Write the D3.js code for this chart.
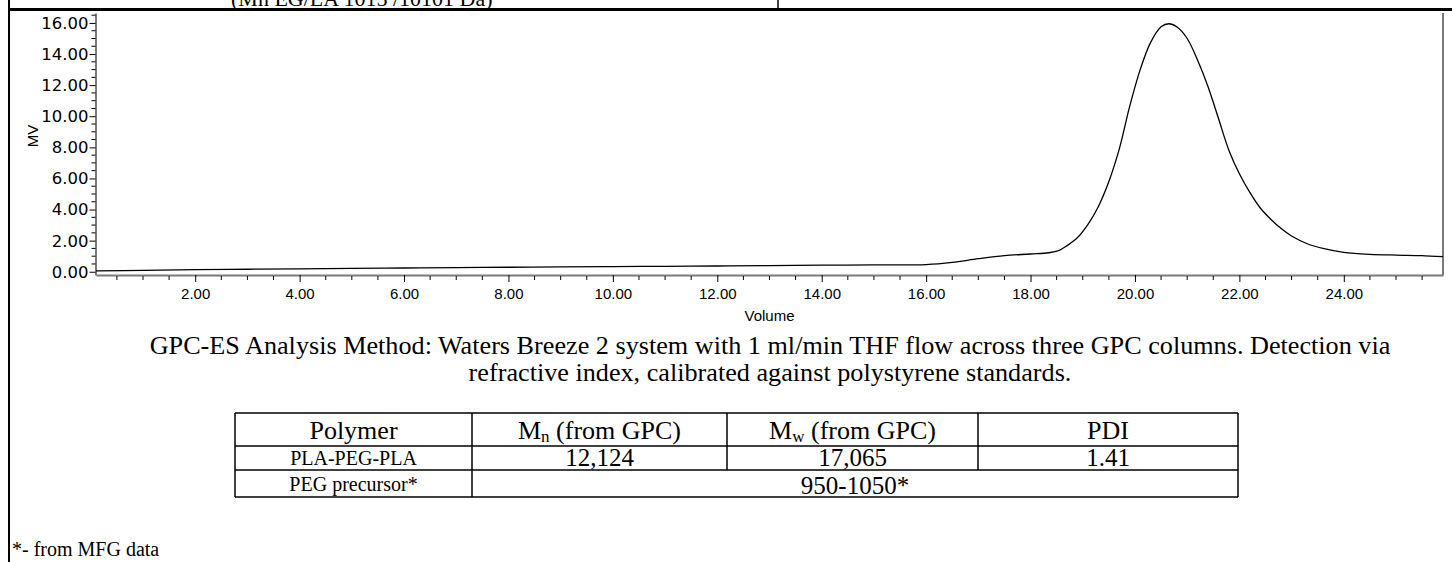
<!DOCTYPE html>
<html>
<head>
<meta charset="utf-8">
<script src="https://cdn.jsdelivr.net/npm/d3@7"></script>
<style>
  html, body { margin: 0; padding: 0; background: #fff; }
  svg { display: block; }
  .tick-label { font-family: "Liberation Sans", Arial, sans-serif; font-size: 15px; fill: #000; }
  .ytick-label { font-family: "DejaVu Sans", Verdana, sans-serif; font-size: 15px; fill: #000; }
  .serif { font-family: "Liberation Serif", "Times New Roman", serif; fill: #000; }
</style>
</head>
<body>
<svg id="chart" width="1452" height="562"></svg>
<script>
// ---- data ----
const volume = [0.1, 1, 2, 3, 4, 5, 6, 7, 8, 9, 10, 11, 12, 13, 14, 15, 16.0, 16.5, 17.0, 17.5, 18.0, 18.35, 18.55, 18.7, 18.9, 19.1, 19.3, 19.5, 19.7, 19.9, 20.1, 20.3, 20.5, 20.65, 20.8, 21.0, 21.2, 21.4, 21.6, 21.8, 22.0, 22.2, 22.4, 22.6, 22.8, 23.0, 23.3, 23.6, 24.0, 24.5, 25.0, 25.5, 25.9];
const mv = [0.06, 0.09, 0.13, 0.16, 0.19, 0.22, 0.24, 0.26, 0.29, 0.31, 0.33, 0.35, 0.37, 0.39, 0.42, 0.44, 0.46, 0.60, 0.84, 1.04, 1.14, 1.22, 1.38, 1.68, 2.20, 3.05, 4.20, 5.80, 7.90, 10.65, 13.0, 14.75, 15.75, 15.95, 15.75, 15.0, 13.6, 11.9, 9.85, 7.8, 6.3, 5.1, 4.1, 3.38, 2.78, 2.3, 1.8, 1.5, 1.25, 1.12, 1.07, 1.04, 0.97];
const yTickValues = [0, 2, 4, 6, 8, 10, 12, 14, 16];
const xTickValues = [2, 4, 6, 8, 10, 12, 14, 16, 18, 20, 22, 24];
const xLabel = "Volume";
const yLabel = "MV";
const headerText = "(Mn EG/LA 1015 /10101 Da)";
const captionLines = [
  "GPC-ES Analysis Method: Waters Breeze 2 system with 1 ml/min THF flow across three GPC columns. Detection via",
  "refractive index, calibrated against polystyrene standards."
];
const tableHeader = [["Polymer"], ["M", "n", " (from GPC)"], ["M", "w", " (from GPC)"], ["PDI"]];
const tableRow1 = ["PLA-PEG-PLA", "12,124", "17,065", "1.41"];
const tableRow2 = ["PEG precursor*", "950-1050*"];
const footnote = "*- from MFG data";

// ---- layout ----
const svg = d3.select("#chart");
svg.append("rect").attr("width", 1452).attr("height", 562).attr("fill", "#fff");

// page frame
svg.append("line").attr("x1", 9).attr("x2", 9).attr("y1", 0).attr("y2", 562)
  .attr("stroke", "#000").attr("stroke-width", 2);
svg.append("line").attr("x1", 8).attr("x2", 1452).attr("y1", 9.5).attr("y2", 9.5)
  .attr("stroke", "#000").attr("stroke-width", 3);
svg.append("line").attr("x1", 778).attr("x2", 778).attr("y1", 0).attr("y2", 8)
  .attr("stroke", "#000").attr("stroke-width", 1.5);
svg.append("text").attr("class", "serif").attr("x", 231).attr("y", 5.5)
  .attr("font-size", 22).text(headerText);

// plot
const pLeft = 96, pRight = 1443, pTop = 13, pBottom = 275;
const x = d3.scaleLinear().domain([0.1, 25.9]).range([pLeft, pRight]);
const y = d3.scaleLinear().domain([-0.21, 16.64]).range([pBottom, pTop]);
const axisColor = "#7a7a7a";

// x axis
const xMinor = d3.range(0.5, 25.9, 0.5).filter(v => !xTickValues.includes(v));
const gx = svg.append("g").attr("transform", `translate(0,${pBottom})`);
gx.call(d3.axisBottom(x).tickValues(xTickValues).tickFormat(d3.format(".2f")).tickSize(7).tickSizeOuter(0));
gx.selectAll(".tick line").attr("stroke", "#000").attr("stroke-width", 1);
gx.selectAll(".tick text").attr("class", "tick-label").attr("dy", "1.02em").attr("y", 8.5);
gx.select(".domain").attr("stroke", axisColor).attr("stroke-width", 2);
gx.selectAll(".minor").data(xMinor).enter().append("line")
  .attr("x1", d => x(d)).attr("x2", d => x(d)).attr("y1", 1).attr("y2", 5)
  .attr("stroke", "#000").attr("stroke-width", 1);

// y axis
const yMinor = d3.range(0.5, 16.64, 0.5).filter(v => !yTickValues.includes(v));
const gy = svg.append("g").attr("transform", `translate(${pLeft - 0.5},0)`);
gy.call(d3.axisLeft(y).tickValues(yTickValues).tickFormat(d3.format(".2f")).tickSize(6).tickSizeOuter(0));
gy.selectAll(".tick line").attr("stroke", "#000").attr("stroke-width", 1);
gy.selectAll(".tick text").attr("class", "ytick-label").attr("x", 0).attr("dy", "0.36em")
  .attr("transform", "translate(-7,0) scale(1.1,1)");
gy.select(".domain").attr("stroke", axisColor).attr("stroke-width", 2);
gy.selectAll(".minor").data(yMinor).enter().append("line")
  .attr("x1", -4).attr("x2", 0).attr("y1", d => y(d)).attr("y2", d => y(d))
  .attr("stroke", "#000").attr("stroke-width", 1);

// right border
svg.append("line").attr("x1", pRight).attr("x2", pRight).attr("y1", pTop).attr("y2", pBottom)
  .attr("stroke", axisColor).attr("stroke-width", 2);

// axis titles
svg.append("text").attr("class", "tick-label").attr("x", (pLeft + pRight) / 2).attr("y", 321)
  .attr("text-anchor", "middle").text(xLabel);
svg.append("text").attr("class", "tick-label")
  .attr("transform", `translate(38,136) rotate(-90)`)
  .attr("text-anchor", "middle").text(yLabel);

// curve
const pts = volume.map((v, i) => [v, mv[i]]);
svg.append("path").datum(pts)
  .attr("fill", "none").attr("stroke", "#000").attr("stroke-width", 1.3)
  .attr("d", d3.line().x(d => x(d[0])).y(d => y(d[1])).curve(d3.curveCatmullRom.alpha(0.5)));

// caption
captionLines.forEach((t, i) => {
  svg.append("text").attr("class", "serif").attr("x", 770).attr("y", 353.5 + i * 27)
    .attr("text-anchor", "middle").attr("font-size", 26.2).text(t);
});

// table
const colX = [235, 472, 727, 978, 1238];
const rowY = [413, 446, 470, 497];
const tg = svg.append("g");
rowY.forEach(ry => tg.append("line").attr("x1", colX[0]).attr("x2", colX[4]).attr("y1", ry).attr("y2", ry)
  .attr("stroke", "#000").attr("stroke-width", 1.5));
colX.forEach((cx, i) => {
  const y2 = (i === 2 || i === 3) ? rowY[2] : rowY[3];
  tg.append("line").attr("x1", cx).attr("x2", cx).attr("y1", rowY[0]).attr("y2", y2)
    .attr("stroke", "#000").attr("stroke-width", 1.5);
});
const mid = i => (colX[i] + colX[i + 1]) / 2;
tableHeader.forEach((h, i) => {
  const t = tg.append("text").attr("class", "serif").attr("x", mid(i)).attr("y", 439)
    .attr("text-anchor", "middle").attr("font-size", 26);
  if (h.length === 3) {
    t.append("tspan").text(h[0]);
    t.append("tspan").attr("font-size", 17).attr("dy", 3).text(h[1]);
    t.append("tspan").attr("dy", -3).text(h[2]);
  } else {
    t.text(h[0]);
  }
});
tableRow1.forEach((v, i) => {
  tg.append("text").attr("class", "serif").attr("x", mid(i)).attr("y", i === 0 ? 465 : 465.5)
    .attr("text-anchor", "middle").attr("font-size", i === 0 ? 20 : 25).text(v);
});
tg.append("text").attr("class", "serif").attr("x", mid(0)).attr("y", 491)
  .attr("text-anchor", "middle").attr("font-size", 20).text(tableRow2[0]);
tg.append("text").attr("class", "serif").attr("x", (colX[1] + colX[4]) / 2).attr("y", 494)
  .attr("text-anchor", "middle").attr("font-size", 25).text(tableRow2[1]);

// footnote
svg.append("text").attr("class", "serif").attr("x", 12).attr("y", 556)
  .attr("font-size", 20).text(footnote);
</script>
</body>
</html>
